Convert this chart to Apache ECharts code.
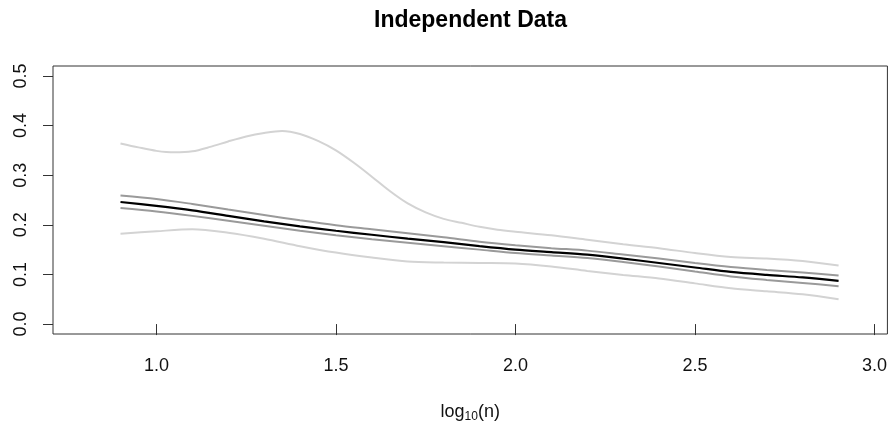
<!DOCTYPE html>
<html>
<head>
<meta charset="utf-8">
<script src="https://cdn.jsdelivr.net/npm/echarts@6/dist/echarts.min.js"></script>
<style>
html,body{margin:0;padding:0;background:#fff;}
#chart{width:890px;height:428px;}
</style>
</head>
<body>
<div id="chart"></div>
<script>
// ---- data ----
const xValues = [0.9, 1.0, 1.1, 1.2, 1.3, 1.4, 1.5, 1.6, 1.7, 1.8, 1.9, 2.0, 2.1, 2.2, 2.3, 2.4, 2.5, 2.6, 2.7, 2.8, 2.9];
const median = [0.246, 0.238, 0.229, 0.218, 0.207, 0.197, 0.188, 0.180, 0.172, 0.165, 0.157, 0.150, 0.145, 0.140, 0.132, 0.123, 0.114, 0.105, 0.099, 0.094, 0.087];
const innerUpper = [0.259, 0.252, 0.242, 0.231, 0.220, 0.209, 0.199, 0.191, 0.183, 0.175, 0.166, 0.159, 0.153, 0.148, 0.140, 0.132, 0.123, 0.115, 0.109, 0.104, 0.098];
const innerLower = [0.234, 0.227, 0.218, 0.208, 0.198, 0.188, 0.179, 0.171, 0.164, 0.157, 0.150, 0.143, 0.138, 0.133, 0.125, 0.116, 0.106, 0.096, 0.089, 0.083, 0.076];
const outerLower = [0.182, 0.187, 0.191, 0.184, 0.172, 0.157, 0.144, 0.134, 0.126, 0.124, 0.123, 0.122, 0.116, 0.107, 0.099, 0.092, 0.082, 0.072, 0.066, 0.060, 0.050];
// the upper outer band is read at a finer step (it has a bump)
const outerUpperX = [0.9, 0.95, 1.0, 1.05, 1.1, 1.15, 1.2, 1.25, 1.3, 1.35, 1.4, 1.45, 1.5, 1.55, 1.6, 1.65, 1.7, 1.75, 1.8, 1.85, 1.9, 1.95, 2.0, 2.1, 2.2, 2.3, 2.4, 2.5, 2.6, 2.7, 2.8, 2.9];
const outerUpper = [0.364, 0.356, 0.349, 0.346, 0.348, 0.357, 0.368, 0.378, 0.385, 0.389, 0.383, 0.369, 0.350, 0.325, 0.297, 0.268, 0.243, 0.225, 0.212, 0.204, 0.196, 0.190, 0.186, 0.179, 0.170, 0.161, 0.153, 0.143, 0.135, 0.132, 0.127, 0.118];
const xTicks = [1.0, 1.5, 2.0, 2.5, 3.0];
const yTicks = [0.0, 0.1, 0.2, 0.3, 0.4, 0.5];
const titleText = 'Independent Data';

const FONT = '"Liberation Sans", Arial, sans-serif';
const pairs = (xs, arr) => xs.map((x, i) => [x, arr[i]]);

function lineSeries(name, xs, arr, color, width, z) {
  return {
    name, type: 'line', data: pairs(xs, arr), showSymbol: false, symbol: 'none',
    smooth: 0.3, z,
    lineStyle: { color, width },
    emphasis: { disabled: true }, silent: true
  };
}

const chart = echarts.init(document.getElementById('chart'), null, { renderer: 'canvas' });
chart.setOption({
  animation: false,
  backgroundColor: '#ffffff',
  grid: {
    left: 53, top: 66, width: 835, height: 270,
    show: true, borderColor: '#333', borderWidth: 1, backgroundColor: 'transparent'
  },
  graphic: [{
    type: 'text', x: 470.5, y: 21,
    style: { text: titleText, align: 'center', verticalAlign: 'middle',
      font: 'bold 23px ' + FONT, fill: '#000' }
  }],
  xAxis: {
    type: 'value', min: 0.712, max: 3.036,
    axisLine: { show: false },
    splitLine: { show: false },
    axisTick: { show: true, customValues: xTicks, length: 11, inside: false,
      lineStyle: { color: '#333', width: 1 } },
    axisLabel: { show: true, customValues: xTicks, margin: 23,
      formatter: v => Number(v).toFixed(1),
      fontFamily: FONT, fontSize: 18, color: '#111' },
    name: '{a|log}{s|10}{a|(n)}',
    nameLocation: 'middle', nameGap: 67,
    nameTextStyle: {
      rich: {
        a: { fontFamily: FONT, fontSize: 18, color: '#111', lineHeight: 22, verticalAlign: 'middle' },
        s: { fontFamily: FONT, fontSize: 12, color: '#111', lineHeight: 22, verticalAlign: 'bottom', padding: [8, 0, 0, 0] }
      }
    }
  },
  yAxis: {
    type: 'value', min: -0.02, max: 0.52,
    axisLine: { show: false },
    splitLine: { show: false },
    axisTick: { show: true, customValues: yTicks, length: 10, inside: false,
      lineStyle: { color: '#333', width: 1 } },
    axisLabel: { show: true, customValues: yTicks, margin: 23, rotate: 90,
      formatter: v => Number(v).toFixed(1),
      fontFamily: FONT, fontSize: 18, color: '#111' }
  },
  series: [
    lineSeries('outerUpper', outerUpperX, outerUpper, '#d3d3d3', 2, 1),
    lineSeries('outerLower', xValues, outerLower, '#d3d3d3', 2, 1),
    lineSeries('innerUpper', xValues, innerUpper, '#9a9a9a', 2, 2),
    lineSeries('innerLower', xValues, innerLower, '#9a9a9a', 2, 2),
    lineSeries('median', xValues, median, '#000000', 2.2, 3)
  ]
});
</script>
</body>
</html>
